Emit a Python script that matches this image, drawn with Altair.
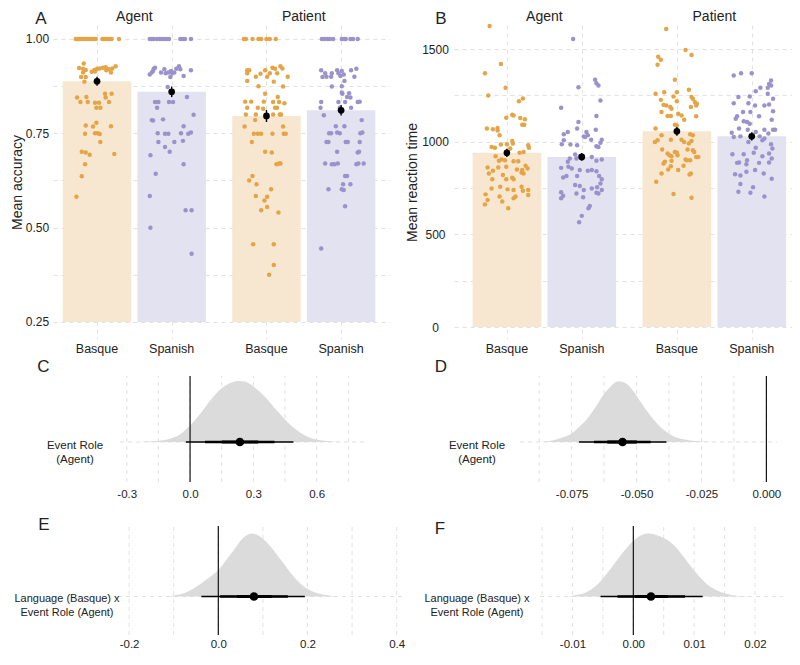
import altair as alt
import pandas as pd

FONT = "Liberation Sans"
TXT = "#222222"
GRID = "#d9d9d9"
DASH = [4, 4]

languages = ["Basque", "Spanish"]
roles = ["Agent", "Patient"]
bar_colors = ["#F7E7D1", "#E3E2F0"]
dot_colors = ["#E5A445", "#9B92CB"]

# order of cells: Agent-Basque, Agent-Spanish, Patient-Basque, Patient-Spanish
acc_mean = [0.888, 0.860, 0.796, 0.811]
acc_err = [0.012, 0.014, 0.016, 0.014]
rt_mean = [940, 918, 1056, 1029]
rt_err = [22, 21, 24, 22]

acc_ticks = [0.25, 0.375, 0.5, 0.625, 0.75, 0.875, 1.0]
acc_major = [0.25, 0.5, 0.75, 1.0]
rt_ticks = [0, 250, 500, 750, 1000, 1250, 1500]
rt_major = [0, 500, 1000, 1500]

# participant points: (horizontal jitter as fraction of bar width, value)
acc_ab = [(-0.32,1.0),(-0.29,1.0),(-0.26,1.0),(-0.23,1.0),(-0.20,1.0),(-0.17,1.0),(-0.14,1.0),(-0.11,1.0),(-0.08,1.0),(-0.05,1.0),(-0.02,1.0),(0.08,1.0),(0.11,1.0),(0.14,1.0),(0.18,1.0),(0.22,1.0),(0.33,1.0),
          (-0.20,0.935),(-0.27,0.923),(-0.21,0.921),(-0.17,0.918),(-0.04,0.918),(0.00,0.921),(0.04,0.922),(0.09,0.924),(0.13,0.925),(0.18,0.920),(0.28,0.928),(0.23,0.922),(-0.21,0.911),(-0.08,0.913),(-0.03,0.914),(0.21,0.911),(-0.24,0.899),(-0.17,0.899),(-0.19,0.887),(0.14,0.917),
          (-0.30,0.845),(-0.16,0.846),(-0.25,0.833),(-0.14,0.833),(-0.03,0.831),(0.03,0.831),(-0.01,0.818),(0.05,0.818),(0.13,0.845),(0.22,0.855),(0.12,0.855),(0.18,0.833),(-0.01,0.778),(-0.17,0.771),(-0.06,0.768),(0.21,0.769),(-0.18,0.749),(-0.03,0.750),(0.01,0.750),(0.04,0.748),(0.05,0.727),(-0.23,0.701),(-0.17,0.699),(-0.11,0.693),(0.26,0.695),(-0.18,0.668),(-0.23,0.636),(-0.31,0.582)]
acc_as = [(-0.33,1.0),(-0.30,1.0),(-0.27,1.0),(-0.22,1.0),(-0.18,1.0),(-0.15,1.0),(-0.11,1.0),(-0.07,1.0),(-0.04,1.0),(0.13,1.0),(0.17,1.0),(0.20,1.0),(0.29,1.0),
          (-0.30,0.911),(-0.33,0.906),(-0.27,0.921),(-0.25,0.924),(-0.16,0.911),(-0.11,0.920),(-0.09,0.909),(-0.05,0.911),(-0.01,0.915),(0.01,0.909),(0.04,0.911),(0.07,0.921),(0.11,0.928),(0.13,0.920),(0.18,0.902),(0.29,0.917),(-0.02,0.899),(-0.28,0.915),
          (-0.06,0.873),(-0.04,0.833),(0.02,0.833),(-0.25,0.833),(-0.20,0.833),(-0.22,0.818),(0.23,0.846),(0.33,0.799),(-0.30,0.785),(-0.28,0.784),(-0.13,0.787),(0.18,0.769),(-0.21,0.750),(-0.10,0.749),(-0.05,0.749),(0.14,0.750),(0.25,0.749),(0.29,0.752),(-0.20,0.727),(0.04,0.727),(0.17,0.730),(-0.10,0.714),(-0.03,0.701),(-0.32,0.692),(0.18,0.668),(-0.24,0.643),(-0.33,0.584),(0.21,0.546),(0.30,0.546),(-0.32,0.500),(0.30,0.431)]
acc_pb = [(-0.34,1.0),(-0.31,1.0),(-0.21,1.0),(-0.12,1.0),(-0.08,1.0),(0.00,1.0),(0.05,1.0),(0.14,1.0),
          (-0.29,0.917),(-0.26,0.917),(-0.29,0.909),(-0.16,0.900),(-0.09,0.908),(-0.02,0.917),(0.01,0.900),(0.05,0.909),(0.09,0.924),(0.13,0.921),(0.16,0.909),(0.21,0.928),(0.24,0.922),(0.32,0.900),(-0.29,0.889),(0.11,0.887),(-0.12,0.875),(0.25,0.874),(-0.02,0.855),(0.17,0.846),(-0.32,0.834),(-0.23,0.834),(-0.04,0.834),(0.10,0.833),(0.19,0.833),(0.27,0.830),(-0.29,0.818),(-0.13,0.818),(-0.05,0.815),(0.13,0.818),(0.16,0.818),(-0.31,0.800),(-0.16,0.800),(0.10,0.800),(0.20,0.800),(0.22,0.800),
          (-0.33,0.768),(-0.17,0.785),(0.25,0.768),(-0.19,0.749),(-0.13,0.749),(-0.08,0.749),(0.09,0.749),(0.26,0.749),(0.29,0.749),(-0.22,0.727),(-0.02,0.701),(0.08,0.699),(0.15,0.668),(0.19,0.670),(0.21,0.670),(-0.21,0.637),(-0.26,0.625),(-0.15,0.615),(0.07,0.602),(-0.16,0.584),(0.01,0.582),(-0.03,0.572),(0.01,0.555),(-0.08,0.546),(0.18,0.540),(-0.20,0.456),(0.11,0.456),(0.11,0.401),(0.04,0.375)]
acc_ps = [(-0.29,1.0),(-0.25,1.0),(-0.21,1.0),(-0.17,1.0),(-0.12,1.0),(0.01,1.0),(0.05,1.0),(0.07,1.0),(0.14,1.0),(0.18,1.0),(0.25,1.0),
          (-0.30,0.917),(-0.24,0.909),(-0.28,0.899),(-0.22,0.900),(-0.15,0.900),(-0.14,0.909),(-0.04,0.909),(-0.01,0.902),(-0.06,0.917),(0.04,0.906),(0.01,0.915),(0.05,0.889),(0.15,0.917),(0.23,0.921),(0.20,0.900),(-0.14,0.874),(0.01,0.875),(0.01,0.858),(0.12,0.856),(0.02,0.855),(0.09,0.846),(0.14,0.845),(-0.04,0.833),(0.06,0.833),(-0.30,0.833),(0.25,0.833),(0.28,0.834),(-0.31,0.818),(0.15,0.818),(-0.02,0.818),(-0.26,0.798),
          (0.31,0.785),(-0.08,0.769),(0.05,0.769),(-0.18,0.750),(-0.15,0.750),(-0.06,0.752),(-0.02,0.750),(0.29,0.750),(0.32,0.752),(-0.22,0.727),(-0.19,0.727),(0.07,0.727),(0.10,0.727),(0.28,0.727),(-0.06,0.701),(0.25,0.699),(0.27,0.701),(-0.24,0.670),(-0.14,0.668),(-0.10,0.668),(-0.05,0.670),(0.23,0.668),(0.26,0.670),(0.34,0.670),(0.06,0.637),(0.09,0.637),(0.03,0.615),(0.14,0.615),(-0.19,0.602),(0.01,0.602),(0.04,0.600),(0.06,0.557),(-0.30,0.445)]

rt_ab = [(-0.26,1625),(-0.09,1420),(-0.33,1370),(-0.02,1291),(-0.28,1250),(0.24,1233),(0.18,1219),(0.08,1146),(0.10,1142),(-0.01,1130),(0.20,1128),(0.27,1121),(0.23,1092),(0.26,1092),(-0.30,1071),(-0.21,1067),(-0.14,1074),(-0.14,1060),(-0.11,1035),(-0.23,972),(-0.18,968),(-0.09,985),(0.00,986),(0.08,1004),(0.09,990),(0.05,963),(0.32,981),(0.33,968),(0.25,945),(0.19,940),(-0.17,922),(-0.12,897),(-0.08,904),(-0.03,900),(0.10,895),(0.17,895),(-0.29,861),(-0.13,861),(-0.01,865),(0.15,850),(0.23,847),(0.31,856),(-0.21,843),(-0.27,829),(-0.06,820),(0.08,806),(0.10,797),(0.22,834),(0.25,829),(0.28,870),(-0.22,797),(-0.01,797),(-0.10,757),(0.01,743),(0.10,739),(0.22,757),(0.24,736),(0.32,739),(-0.23,748),(-0.32,716),(-0.11,704),(0.32,712),(0.13,704),(0.10,695),(-0.29,686),(-0.33,662),(-0.07,677),(0.02,641)]
rt_as = [(-0.13,1554),(0.20,1335),(0.22,1316),(0.25,1303),(-0.05,1294),(0.28,1223),(-0.31,1183),(0.22,1139),(-0.05,1106),(0.21,1065),(-0.21,1053),(-0.27,1040),(-0.07,1071),(0.07,1053),(0.09,1035),(0.05,1026),(0.03,1029),(-0.30,986),(-0.27,1008),(-0.17,985),(-0.07,981),(0.14,1011),(0.30,1011),(0.28,994),(0.22,976),(0.25,972),(-0.10,931),(-0.18,909),(-0.21,892),(-0.08,909),(-0.03,922),(0.15,918),(0.22,897),(0.30,904),(-0.31,859),(-0.20,865),(-0.15,856),(-0.03,847),(0.09,843),(0.15,847),(0.22,841),(-0.28,807),(-0.23,815),(-0.07,815),(0.26,815),(0.30,797),(0.28,775),(-0.10,766),(-0.03,761),(0.03,739),(0.15,748),(0.23,754),(0.30,739),(-0.31,727),(-0.28,709),(-0.31,695),(-0.08,721),(0.22,725),(0.25,721),(0.02,700),(0.12,653),(0.10,641),(0.00,600),(-0.04,566)]
rt_pb = [(-0.16,1608),(0.13,1495),(-0.28,1459),(-0.24,1443),(-0.29,1416),(0.22,1468),(-0.03,1334),(-0.32,1259),(-0.19,1267),(-0.05,1244),(0.00,1267),(0.18,1280),(0.22,1241),(0.24,1232),(-0.24,1226),(-0.20,1199),(-0.16,1196),(-0.10,1187),(-0.08,1178),(0.00,1219),(0.21,1187),(0.27,1214),(0.30,1205),(0.29,1196),(-0.23,1160),(-0.14,1139),(-0.09,1139),(0.02,1151),(0.07,1142),(0.29,1137),(0.11,1119),(0.00,1088),(-0.03,1092),(-0.32,1071),(-0.23,1035),(-0.29,1008),(-0.33,999),(-0.09,1011),(0.07,1011),(0.11,999),(0.20,1040),(0.24,1035),(0.22,1004),(0.18,990),(-0.22,958),(-0.14,936),(-0.11,927),(-0.08,922),(-0.03,945),(0.00,940),(0.01,927),(0.16,958),(0.24,954),(0.26,945),(0.29,918),(0.32,918),(-0.18,892),(-0.20,883),(-0.08,897),(0.13,904),(0.15,900),(0.20,900),(-0.09,868),(0.02,847),(0.10,870),(-0.13,850),(-0.23,829),(0.21,829),(0.19,823),(-0.31,784),(-0.05,718),(0.22,698)]
rt_ps = [(-0.27,1357),(-0.16,1370),(0.00,1370),(0.29,1330),(0.26,1312),(0.29,1303),(0.24,1291),(0.13,1291),(0.06,1273),(-0.20,1241),(-0.03,1244),(0.24,1259),(0.32,1232),(-0.27,1208),(-0.05,1208),(0.05,1196),(0.19,1196),(0.26,1201),(-0.13,1160),(-0.02,1160),(-0.22,1137),(-0.24,1124),(0.11,1137),(0.32,1165),(-0.12,1110),(-0.07,1106),(-0.03,1097),(0.30,1119),(-0.19,1071),(-0.06,1065),(-0.30,1049),(0.06,1053),(0.19,1065),(0.32,1065),(0.35,1065),(0.25,1044),(-0.27,1026),(-0.17,1029),(0.12,1029),(0.16,1008),(0.19,1017),(-0.05,999),(0.06,968),(0.29,986),(0.31,963),(-0.29,933),(-0.12,933),(0.03,940),(0.16,922),(0.26,936),(-0.22,886),(-0.19,888),(-0.07,900),(-0.08,879),(0.11,886),(0.26,888),(0.30,909),(-0.08,838),(0.05,847),(-0.25,825),(-0.17,818),(0.18,829),(0.30,800),(-0.17,772),(0.02,754),(-0.20,730),(-0.02,725),(0.19,704)]

# posterior panels
c_label = "Event Role\n(Agent)"
c_point = 0.236
c_i95 = [-0.02, 0.49]
c_i80 = [0.071, 0.40]
c_i50 = [0.15, 0.323]
c_dens_x = [-0.25, -0.15, -0.10, -0.05, 0.00, 0.05, 0.10, 0.15, 0.20, 0.23, 0.26, 0.30, 0.35, 0.40, 0.45, 0.50, 0.55, 0.60, 0.65, 0.70, 0.78]
c_dens_h = [0.00, 0.02, 0.05, 0.12, 0.27, 0.47, 0.70, 0.88, 0.98, 1.00, 0.99, 0.91, 0.76, 0.56, 0.37, 0.21, 0.10, 0.04, 0.015, 0.005, 0.0]
c_major = [-0.3, 0.0, 0.3, 0.6]
c_minor = [-0.15, 0.15, 0.45, 0.75]

d_label = "Event Role\n(Agent)"
d_point = -0.0554
d_i95 = [-0.0722, -0.0385]
d_i80 = [-0.0664, -0.0446]
d_i50 = [-0.0613, -0.0499]
d_dens_x = [-0.090, -0.085, -0.082, -0.078, -0.075, -0.072, -0.069, -0.066, -0.063, -0.060, -0.057, -0.054, -0.051, -0.048, -0.045, -0.042, -0.039, -0.036, -0.032, -0.028, -0.024, -0.020]
d_dens_h = [0.0, 0.01, 0.03, 0.08, 0.14, 0.25, 0.38, 0.56, 0.76, 0.91, 0.995, 0.96, 0.82, 0.63, 0.45, 0.30, 0.18, 0.10, 0.045, 0.02, 0.007, 0.0]
d_major = [-0.075, -0.05, -0.025, 0.0]
d_minor = [-0.0875, -0.0625, -0.0375, -0.0125]

e_label = "Language (Basque) x\nEvent Role (Agent)"
e_point = 0.080
e_i95 = [-0.038, 0.194]
e_i80 = [0.004, 0.156]
e_i50 = [0.042, 0.120]
e_dens_x = [-0.12, -0.10, -0.074, -0.04, -0.02, 0.0, 0.02, 0.034, 0.057, 0.076, 0.09, 0.11, 0.13, 0.147, 0.165, 0.185, 0.205, 0.223, 0.245, 0.27]
e_dens_h = [0.0, 0.015, 0.06, 0.20, 0.30, 0.42, 0.60, 0.73, 0.94, 1.0, 0.97, 0.85, 0.68, 0.52, 0.35, 0.20, 0.10, 0.05, 0.02, 0.0]
e_major = [-0.2, 0.0, 0.2, 0.4]
e_minor = [-0.1, 0.1, 0.3]

f_label = "Language (Basque) x\nEvent Role (Agent)"
f_point = 0.0029
f_i95 = [-0.0054, 0.0114]
f_i80 = [-0.0026, 0.0085]
f_i50 = [0.0003, 0.0057]
f_dens_x = [-0.0108, -0.0095, -0.0075, -0.0058, -0.0042, -0.0021, 0.0, 0.0015, 0.0025, 0.004, 0.0055, 0.0068, 0.0082, 0.0096, 0.011, 0.0123, 0.0137, 0.015, 0.0163, 0.019]
f_dens_h = [0.0, 0.02, 0.08, 0.2, 0.38, 0.65, 0.88, 0.98, 1.0, 0.97, 0.9, 0.8, 0.64, 0.46, 0.3, 0.18, 0.1, 0.05, 0.02, 0.0]
f_major = [-0.01, 0.0, 0.01, 0.02]
f_minor = [-0.015, -0.005, 0.005, 0.015]

# ---------------- layout ----------------
ROLE_GAP = 2.27
BAR_W = 0.89
TOP_H = 314


def cell_pos(ri, li):
    return ri * ROLE_GAP + li


def letter_layer(ch, x, y):
    return alt.Chart(pd.DataFrame({"t": [ch]})).mark_text(
        fontSize=17, align="center", baseline="middle", color=TXT
    ).encode(x=alt.value(x), y=alt.value(y), text="t:N")


def top_panel(means, errs, groups, xdom, W, ydom, ybase, yticks, ymajor, yfmt, ytitle,
              title_x, lab_pad, letter, lx, ly):
    H = TOP_H
    xs = alt.Scale(domain=xdom, nice=False, zero=False)
    ys = alt.Scale(domain=ydom, nice=False, zero=False)
    brow, prow = [], []
    k = 0
    for ri, r in enumerate(roles):
        for li, l in enumerate(languages):
            p = cell_pos(ri, li)
            brow.append({"lang": l, "pos": p, "mean": means[k],
                         "lo": means[k] - errs[k], "hi": means[k] + errs[k],
                         "fill": bar_colors[li]})
            for j, v in groups[k]:
                prow.append({"x": p + j * BAR_W, "v": v, "fill": dot_colors[li]})
            k += 1
    bars = pd.DataFrame(brow)
    pts = pd.DataFrame(prow)
    heads = pd.DataFrame({"role": roles, "c": [cell_pos(i, 0.5) for i in range(2)]})
    bar_px = BAR_W * W / (xdom[1] - xdom[0])

    yaxis = alt.Axis(
        values=yticks, grid=True, gridDash=DASH, gridColor=GRID, gridWidth=0.8,
        ticks=False, tickSize=0, domain=False, labelAlign="center",
        labelPadding=lab_pad, labelFontSize=12, labelColor=TXT, labelFont=FONT,
        labelExpr=f"indexof({ymajor}, datum.value) >= 0 ? format(datum.value, '{yfmt}') : ''",
        title=ytitle, titleFont=FONT, titleFontSize=14, titleFontWeight="normal",
        titleColor=TXT, titleX=title_x, titleY=H / 2, titleAlign="center",
        titleBaseline="middle")
    xaxis = alt.Axis(values=[float(v) for v in bars["pos"]], grid=True, gridDash=DASH,
                     gridColor=GRID, gridWidth=0.8, labels=False, ticks=False,
                     domain=False, title=None)

    bar_l = alt.Chart(bars).mark_bar(size=bar_px).encode(
        x=alt.X("pos:Q", scale=xs, axis=xaxis),
        y=alt.Y("mean:Q", scale=ys, axis=yaxis),
        y2=alt.Y2Datum(ybase),
        color=alt.Color("fill:N", scale=None))
    pt_l = alt.Chart(pts).mark_circle(size=20, opacity=1).encode(
        x=alt.X("x:Q", scale=xs),
        y=alt.Y("v:Q", scale=ys),
        color=alt.Color("fill:N", scale=None))
    err_l = alt.Chart(bars).mark_rule(color="black", strokeWidth=1.4).encode(
        x=alt.X("pos:Q", scale=xs),
        y=alt.Y("lo:Q", scale=ys), y2="hi:Q")
    mean_l = alt.Chart(bars).mark_circle(size=45, color="black", opacity=1).encode(
        x=alt.X("pos:Q", scale=xs),
        y=alt.Y("mean:Q", scale=ys))
    cat_l = alt.Chart(bars).mark_text(fontSize=12.5, color=TXT, baseline="middle").encode(
        x=alt.X("pos:Q", scale=xs), y=alt.value(H + 10), text="lang:N")
    head_l = alt.Chart(heads).mark_text(fontSize=14, color=TXT, baseline="middle").encode(
        x=alt.X("c:Q", scale=xs), y=alt.value(-8), text="role:N")
    return alt.layer(bar_l, pt_l, err_l, mean_l, cat_l, head_l,
                     letter_layer(letter, lx, ly)).properties(width=W, height=H)


def effect_panel(dens_x, dens_h, point, i95, i80, i50, major, minor, fmt, label,
                 vis_lo, vis_hi, pad, vw, H, c_px, k_px, top_px,
                 lab_dx, lab_dy, lab_lh, lab_fs, lab_padding, letter, lx, ly):
    span = vis_hi - vis_lo
    xs = alt.Scale(domain=[vis_lo - pad * span / vw, vis_hi], nice=False, zero=False)
    ylo = -(H - c_px) / k_px
    yhi = c_px / k_px
    ytop = (c_px - top_px) / k_px
    ys = alt.Scale(domain=[ylo, yhi], nice=False, zero=False)
    xaxis = alt.Axis(
        values=major,
        labelExpr=f"replace(format(datum.value, '{fmt}'), '\u2212', '-')",
        grid=False, ticks=False, tickSize=0, domain=False,
        labelPadding=lab_padding, labelFontSize=11.5, labelColor=TXT,
        labelFont=FONT, labelFlush=False, title=None)
    one = pd.DataFrame({"a": [0]})

    grid_l = alt.Chart(pd.DataFrame({"t": major + minor})).mark_rule(
        color=GRID, strokeDash=DASH, strokeWidth=0.8).encode(
        x=alt.X("t:Q", scale=xs, axis=xaxis),
        y=alt.YDatum(ylo, scale=ys, axis=None),
        y2=alt.Y2Datum(ytop))
    hline_l = alt.Chart(one).mark_rule(color=GRID, strokeDash=DASH, strokeWidth=0.8).encode(
        x=alt.XDatum(vis_lo), x2=alt.X2Datum(vis_hi),
        y=alt.YDatum(0, axis=None))
    dens_l = alt.Chart(pd.DataFrame({"x": dens_x, "h": dens_h})).mark_area(
        color="#DBDBDB", interpolate="monotone", opacity=1).encode(
        x=alt.X("x:Q", scale=xs),
        y=alt.Y("h:Q", scale=ys, axis=None),
        y2=alt.Y2Datum(0))
    zero_l = alt.Chart(one).mark_rule(color="black", strokeWidth=1.1).encode(
        x=alt.XDatum(0), y=alt.YDatum(ylo, axis=None), y2=alt.Y2Datum(ytop))
    ints = pd.DataFrame({"lo": [i95[0], i80[0], i50[0]],
                         "hi": [i95[1], i80[1], i50[1]],
                         "lev": ["95", "80", "50"]})
    int_l = alt.Chart(ints).mark_rule(color="black").encode(
        x=alt.X("lo:Q", scale=xs), x2="hi:Q",
        y=alt.YDatum(0, axis=None),
        size=alt.Size("lev:O", scale=alt.Scale(domain=["95", "80", "50"],
                                               range=[1.6, 3.2, 4.8]), legend=None))
    pt_l = alt.Chart(pd.DataFrame({"p": [point]})).mark_circle(
        size=75, color="black", opacity=1).encode(
        x=alt.X("p:Q", scale=xs), y=alt.YDatum(0, axis=None))
    lab_l = alt.Chart(pd.DataFrame({"t": [label]})).mark_text(
        fontSize=lab_fs, align="center", baseline="middle", lineBreak="\n",
        lineHeight=lab_lh, dy=lab_dy, color=TXT).encode(
        x=alt.value(pad + lab_dx), y=alt.YDatum(0, axis=None), text="t:N")
    return alt.layer(grid_l, hline_l, dens_l, zero_l, int_l, pt_l, lab_l,
                     letter_layer(letter, lx, ly)).properties(width=pad + vw, height=H)


A = top_panel(acc_mean, acc_err, [acc_ab, acc_as, acc_pb, acc_ps],
              [-0.523, 3.858], 337,
              [0.2049, 1.0371], 0.25, acc_ticks, acc_major, ".2f", "Mean accuracy",
              -36, 16, "A", -12, -6)
B = top_panel(rt_mean, rt_err, [rt_ab, rt_as, rt_pb, rt_ps],
              [-0.64, 3.741], 338,
              [-64.5, 1630], 0, rt_ticks, rt_major, "d", "Mean reaction time",
              -42, 19, "B", -13, -6)
C = effect_panel(c_dens_x, c_dens_h, c_point, c_i95, c_i80, c_i50, c_major, c_minor,
                 ".1f", c_label, -0.332, 0.829, 67, 245, 106, 66, 61, 0,
                 -45, 4, 14, 11.5, 6, "C", -9.5, -9)
D = effect_panel(d_dens_x, d_dens_h, d_point, d_i95, d_i80, d_i50, d_major, d_minor,
                 ".3f", d_label, -0.0949, 0.0041, 66, 257, 106, 66, 61, 0,
                 -43, 4, 14, 11.5, 6, "D", -13, -9)
E = effect_panel(e_dens_x, e_dens_h, e_point, e_i95, e_i80, e_i50, e_major, e_minor,
                 ".1f", e_label, -0.2249, 0.4209, 65, 288, 116, 77.5, 63, 7,
                 -51, 2.5, 13.5, 11, 3, "E", -9, 6)
F = effect_panel(f_dens_x, f_dens_h, f_point, f_i95, f_i80, f_i50, f_major, f_minor,
                 ".2f", f_label, -0.01534, 0.02461, 86, 243, 116, 77.5, 63, 7,
                 -63, 2.5, 13.5, 11, 3, "F", -14, 10)

chart = alt.concat(A, B, C, D, E, F, columns=2,
                   spacing={"row": 37, "column": 48},
                   bounds="flush", align="each",
                   padding={"left": 2, "top": 2, "right": 0, "bottom": 0})
chart = chart.configure(font=FONT, background="white").configure_view(stroke=None)

chart.save("out.html", embed_options={"renderer": "svg", "actions": False})
